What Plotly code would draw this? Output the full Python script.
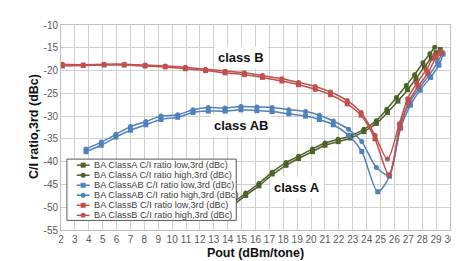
import plotly.graph_objects as go

# ---------------- data ----------------
x_ticks = list(range(2, 31))
x_tick_labels = [str(v) for v in x_ticks]
y_ticks = [-10, -15, -20, -25, -30, -35, -40, -45, -50, -55]
y_tick_labels = ["-10", "-15", "-20", "-25", "-30", "-35", "-40", "-45", "-50", "-55"]

a_low_x = [13.3, 14.3, 15.3, 16.25, 17.2, 18.2, 19.1, 20.1, 21.0, 21.95, 22.85, 23.8, 24.7, 25.5, 26.25, 26.95, 27.55, 28.15, 28.65, 29.0, 29.3]
a_low_y = [-51.8, -49.7, -47.4, -45.3, -42.9, -40.8, -39.3, -37.8, -36.4, -35.6, -34.8, -33.4, -31.6, -29.2, -26.7, -24.2, -21.8, -19.2, -17.3, -16.1, -15.4]
a_high_x = [13.3, 14.3, 15.3, 16.25, 17.2, 18.2, 19.1, 20.1, 21.0, 21.95, 22.85, 23.8, 24.7, 25.45, 26.15, 26.85, 27.45, 28.05, 28.55, 28.9]
a_high_y = [-51.3, -49.2, -46.9, -44.8, -42.3, -40.2, -38.8, -37.2, -35.9, -35.1, -34.3, -32.9, -31.0, -28.5, -25.9, -23.3, -20.9, -18.3, -16.3, -14.9]

ab_low_x = [3.8, 4.9, 5.95, 7.0, 8.1, 9.2, 10.4, 11.5, 12.6, 13.8, 14.95, 16.1, 17.2, 18.4, 19.6, 20.6, 21.6, 22.7, 23.65, 24.8, 25.65, 26.45, 27.15, 27.85, 28.6, 29.2, 29.5]
ab_low_y = [-37.8, -36.4, -34.6, -33.1, -31.9, -30.75, -30.25, -29.2, -28.9, -28.9, -28.6, -28.8, -29.0, -29.5, -30.0, -30.75, -31.9, -34.2, -37.75, -46.6, -43.2, -32.6, -27.6, -24.3, -21.5, -18.8, -16.4]
ab_high_x = [3.8, 4.9, 5.95, 7.0, 8.1, 9.2, 10.4, 11.5, 12.6, 13.8, 14.95, 16.1, 17.2, 18.4, 19.6, 20.6, 21.6, 22.7, 23.65, 24.7, 25.6, 26.4, 27.1, 27.8, 28.5, 29.1, 29.45]
ab_high_y = [-37.2, -35.7, -34.0, -32.3, -31.2, -30.0, -29.7, -28.6, -28.1, -28.2, -27.9, -28.0, -28.1, -28.6, -29.0, -29.8, -31.1, -32.9, -35.6, -41.3, -42.9, -32.0, -27.0, -23.8, -21.0, -18.2, -16.0]

b_low_x = [2.1, 3.6, 5.1, 6.55, 8.05, 9.5, 10.95, 12.4, 13.8, 15.2, 16.5, 17.9, 19.1, 20.3, 21.4, 22.6, 23.6, 24.6, 25.6, 26.4, 27.0, 27.7, 28.4, 29.0, 29.4]
b_low_y = [-19.0, -18.9, -18.8, -18.8, -19.0, -19.2, -19.6, -20.0, -20.5, -20.9, -21.5, -22.3, -23.1, -24.1, -25.3, -27.3, -29.8, -35.0, -42.9, -32.6, -27.0, -23.5, -20.6, -17.2, -16.2]
b_high_x = [2.1, 3.6, 5.1, 6.55, 8.05, 9.5, 10.95, 12.4, 13.8, 15.2, 16.5, 17.9, 19.1, 20.3, 21.4, 22.6, 23.6, 24.6, 25.5, 26.35, 26.95, 27.6, 28.3, 28.9, 29.3]
b_high_y = [-18.6, -18.7, -18.6, -18.6, -18.8, -19.0, -19.3, -19.7, -20.1, -20.5, -21.1, -21.8, -22.6, -23.5, -24.7, -26.6, -29.2, -34.2, -39.4, -31.7, -26.2, -22.8, -19.8, -16.6, -15.8]

series_names = [
    "BA ClassA C/I ratio low,3rd (dBc)",
    "BA ClassA C/I ratio high,3rd (dBc)",
    "BA ClassAB C/I ratio low,3rd (dBc)",
    "BA ClassAB C/I ratio high,3rd (dBc)",
    "BA ClassB C/I ratio low,3rd (dBc)",
    "BA ClassB C/I ratio high,3rd (dBc)",
]
class_labels = ["class B", "class AB", "class A"]
class_label_x = [14.95, 14.95, 19.0]
class_label_y = [-17.1, -32.1, -45.7]
x_title = "Pout (dBm/tone)"
y_title = "C/I ratio,3rd (dBc)"

# ---------------- styling ----------------
GREEN = "#4F6228"
BLUE = "#4F81BD"
RED = "#C0504D"
colors = [GREEN, GREEN, BLUE, BLUE, RED, RED]
symbols = ["square", "circle", "square", "circle", "square", "circle"]
xs = [a_low_x, a_high_x, ab_low_x, ab_high_x, b_low_x, b_high_x]
ys = [a_low_y, a_high_y, ab_low_y, ab_high_y, b_low_y, b_high_y]

FONT = "Liberation Sans, Arial, sans-serif"

fig = go.Figure()
for name, x, y, c, s in zip(series_names, xs, ys, colors, symbols):
    fig.add_trace(go.Scatter(
        x=x, y=y, name=name, mode="lines+markers",
        line=dict(color=c, width=1.5, shape="spline", smoothing=0.8),
        marker=dict(color=c, symbol=s, size=5),
        showlegend=False, cliponaxis=True,
    ))

# Manual legend (native plotly legend rows are too tall)
L, R, T, B = 53, 448, 13, 227
PW, PH = R - L, B - T
def px(xp):
    return (xp - L) / PW
def py(yp):
    return 1 - (yp - T) / PH

shapes = [dict(type="rect", xref="paper", yref="paper",
               x0=px(59), x1=px(231), y0=py(217), y1=py(153),
               fillcolor="white", line=dict(color="#595959", width=1), layer="above")]
annotations = []
row_y = [159.3, 169.8, 180.3, 190.7, 201.2, 211.7]
for name, c, s, ry in zip(series_names, colors, symbols, row_y):
    shapes.append(dict(type="line", xref="paper", yref="paper",
                       x0=px(69), x1=px(82), y0=py(ry), y1=py(ry),
                       line=dict(color=c, width=1.5), layer="above"))
    shapes.append(dict(type="rect" if s == "square" else "circle",
                       xref="paper", yref="paper",
                       xsizemode="pixel", ysizemode="pixel",
                       xanchor=px(75.5), yanchor=py(ry),
                       x0=-2.5, x1=2.5, y0=-2.5, y1=2.5,
                       fillcolor=c, line=dict(color=c, width=0), layer="above"))
    annotations.append(dict(xref="paper", yref="paper", x=px(84), y=py(ry),
                            text=name, showarrow=False, xanchor="left", yanchor="middle",
                            font=dict(family=FONT, size=9.2, color="#404040")))

for t, x, y in zip(class_labels, class_label_x, class_label_y):
    annotations.append(dict(x=x, y=y, xref="x", yref="y", text="<b>%s</b>" % t,
                            showarrow=False, bgcolor="white", borderpad=3,
                            font=dict(family=FONT, size=13, color="#111111")))

# y-axis title placed as rotated text close to the tick labels
annotations.append(dict(xref="paper", yref="paper", x=px(25), y=py(119),
                        text="<b>%s</b>" % y_title, textangle=-90, showarrow=False,
                        xanchor="center", yanchor="middle",
                        font=dict(family=FONT, size=12.5, color="#111111")))

GRID = "#D0D0D0"
fig.update_layout(
    width=459, height=261,
    margin=dict(l=L, r=459 - R, t=T, b=261 - B),
    paper_bgcolor="white", plot_bgcolor="white",
    font=dict(family=FONT),
    shapes=shapes, annotations=annotations,
    showlegend=False,
    xaxis=dict(range=[2, 30], tickvals=x_ticks, ticktext=x_tick_labels,
               showgrid=True, gridcolor=GRID, gridwidth=1, zeroline=False,
               showline=True, linecolor="#BFBFBF", mirror=True,
               ticks="", tickfont=dict(family=FONT, size=10, color="#595959"),
               title=dict(text="<b>%s</b>" % x_title, standoff=4,
                          font=dict(family=FONT, size=12.5, color="#111111"))),
    yaxis=dict(range=[-55, -10], tickvals=y_ticks, ticktext=y_tick_labels,
               showgrid=True, gridcolor=GRID, gridwidth=1, zeroline=False,
               showline=True, linecolor="#BFBFBF", mirror=True,
               ticks="", tickfont=dict(family=FONT, size=10, color="#595959")),
)

fig.write_html("out.html")
